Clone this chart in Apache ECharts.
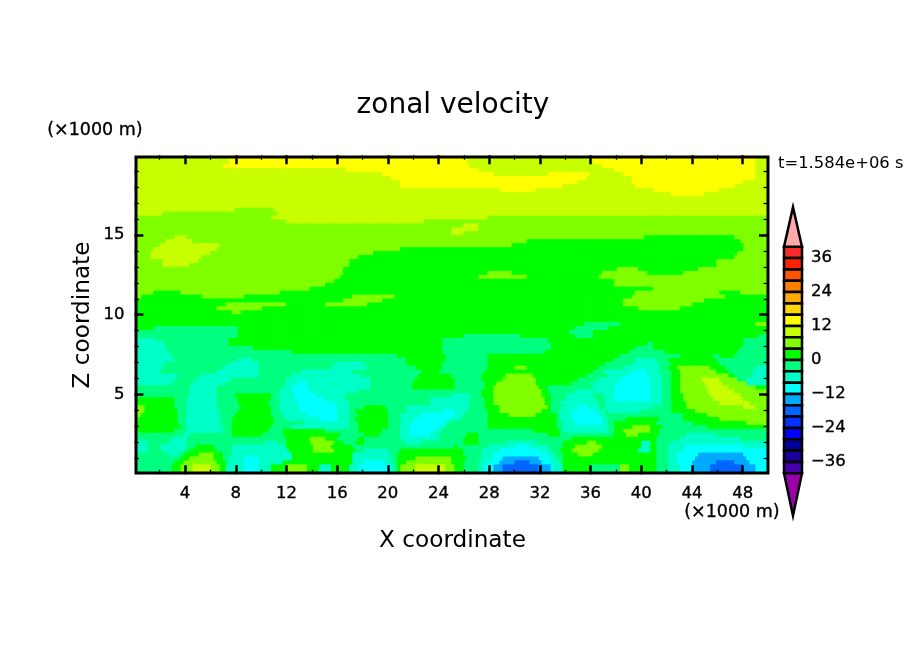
<!DOCTYPE html>
<html><head><meta charset="utf-8">
<style>html,body{margin:0;padding:0;background:#fff}#c{width:904px;height:654px}</style>
<script src="https://cdn.jsdelivr.net/npm/echarts@6/dist/echarts.min.js"></script>
</head><body><div id="c"></div>
<script>
// Band limits and colours of the colour bar, top to bottom (m/s)
const bandEdges = [40,36,32,28,24,20,16,12,8,4,0,-4,-8,-12,-16,-20,-24,-28,-32,-36,-40];
const bandColors = ['#ff2a2a','#ff2200','#ff5500','#ff7f00','#ffaa00','#ffd400','#ffff00','#c8ff00','#80ff00','#00ff00','#00ff80','#00ffc8','#00ffff','#00aaff','#0066ff','#0033ff','#0000ff','#000099','#1a0099','#4400aa'];
const overColor = '#ffaaaa';
const underColor = '#9900aa';
const tipValues = [54, -55];
const barTicks = [36,24,12,0,-12,-24,-36];
const xTickLabels = [4,8,12,16,20,24,28,32,36,40,44,48];
const xMinorTicks = [2,6,10,14,18,22,26,30,34,38,42,46];
const zTickLabels = [5,10,15];
const zMinorTicks = [1,2,3,4,6,7,8,9,11,12,13,14,16,17,18,19];
// Letter = velocity band
const letterValues = {a:14,b:10,c:6,d:2,e:-2,f:-6,g:-10,h:-14,i:-18};
const zRowHeight = 0.25;
const xStart = 0.125;
const xEnd = 50;
const nCols = 210;
// One line per height row, top (z=20) to bottom (z=0), 0.25 km apart: band letter + x (km) where that band ends
const rowRuns = [
"b7.4 a26.2 b36.3 a49 b50",
"b7.4 a26.2 b36.3 a49 b50",
"b7.1 a26.5 b36.9 a49 b50",
"b16.8 a27.1 b37.8 a49.1 b50",
"b19.5 a28.3 b32.75 a36 b38.55 a49.1 b50",
"b20.4 a35.8 b39.3 a49 b50",
"b21.1 a35 b39.4 a48.2 b50",
"b21.1 a33.9 b39.5 a47.4 b50",
"b28.8 a31.8 b41 a46.2 b50",
"b42.5 a44.9 b50",
"b50",
"b50",
"b50",
"b7.9 c11.1 b50",
"b2.3 c11.2 b50",
"c10.7 b28 c50",
"c12 b23 c50",
"c25.9 b27.1 c50",
"c25 b27.1 c50",
"c25 b26 c50",
"c3.1 b4.1 c40.3 d47.3 c50",
"c2.5 b4.7 c31 d47.9 c50",
"c2 b6.8 c29.9 d48 c50",
"c1.6 b6.5 c21 d48 c50",
"c1.4 b6 c18.9 d47.6 c50",
"c1.4 b5.45 c17.8 d47.4 c50",
"c2.3 b5.2 c17 d46 c50",
"c2.3 b4.5 c16.9 d46 c50",
"c16.6 d38.2 c39.9 d44.5 c50",
"c16.5 d28 c29.8 d37 c40.5 d43.4 c50",
"c16.2 d27.2 c30.9 d36.7 c50",
"c15.7 d38 c50",
"c15.2 d37.8 c50",
"c14 d40.9 c50",
"c1.5 d3.8 c11.5 d39.6 c46.3 d47.8 c50",
"c0.7 d5.4 c8.7 d17.15 c20.45 d39.2 c46.7 d50",
"d16.5 c19.7 d38.7 c44.9 d50",
"d7.3 c12 d15.2 c18.3 d38.6 c44.1 d50",
"d6.6 c10.2 d39.7 c43 d50",
"d7.8 c8.4 d50",
"d50",
"d50",
"d35.5 e38.4 d49 c50",
"d1.5 e8.1 d34.9 e37.5 d50",
"e8.1 d34.3 e36.3 d50",
"e8.1 d26 e30.6 d34.9 e36.2 d49.4 e50",
"f1.7 e7.4 d24.3 e32.6 d48.2 e50",
"f2.4 e7.5 d24.3 e32.9 d40.4 e40.9 d48 e50",
"f2.6 e9.5 d24.3 e33 d39.6 e40.9 d47.8 e50",
"f2.8 e12.5 d24.3 e32.5 d39 e42 d47.6 e50",
"f2.9 e20.7 d24.5 e28 d38.3 e43 d45.7 e46.3 d47.5 e50",
"f3.3 e8.2 f9.3 e21.5 d24.5 e27.95 d37.8 e39.6 f41.3 e42.25 d46 e50",
"f2.6 e7.5 f9.9 e15.7 f18.2 e21.6 d24.4 e27.9 d37.1 e39.4 f41.5 e42.3 d46.3 e50",
"f2.3 e7 f9.9 e15.6 f18.35 e22.3 d24.4 e27.95 d30 c31 d36.6 e38.7 f41.5 e42.25 d42.9 c45.4 d46.75 e49.1 f50",
"f2.1 e6.6 f9.9 e13.3 f17.2 e22.7 d24 e27.7 d36.2 e37.2 f39.2 g40.5 f41.5 e42.3 d43 c46 d47 e48.7 f50",
"f3.35 e5.45 f9.9 e12.55 f18 e22.4 d25 e27.5 d29.45 c31.45 d35.65 e37.5 f38.8 g40.5 f41.6 e42.3 d43 c46.9 d47.3 e48.7 f50",
"f3.2 e4.9 f7.7 e12 f18.6 e22.2 d25.2 e27.5 d29.2 c31.7 d35.1 e36.8 f38.4 g40.7 f41.6 e42.3 d43 c44.8 b46.2 c47.7 e48.3 f50",
"f2.95 e4.65 f7.3 e11.9 f13 g13.6 f18.6 e22 d25.2 e27.6 d28.65 c31.8 d34.6 e36.3 f38.05 g40.7 f41.6 e42.3 d43.1 c45 b46.35 c48.3 f50",
"e4.4 f6.6 e11.8 f12.4 g13.7 f18.6 e22 d25.2 e27.6 d28.4 c32 d32.6 e36.2 f37.8 g40.8 f41.6 e42.3 d43.2 c45.2 b46.9 c49.1 d50",
"e4.5 f6.6 e11.5 f12.4 g14 f17.8 e27.5 d28.3 c32.1 d32.6 e34.75 f37.8 g40.8 f41.6 e42.3 d43.2 c45.3 b47.3 c50",
"e4.3 f6.5 e7.9 d10.7 e11.4 f12.7 g14.3 f16.8 e25 f26.5 e27.5 d28.3 c32.2 d32.8 e34 f36.2 e37 f37.8 g40.8 f41.6 e42.3 d43.3 c45.5 b47.8 c50",
"d3.3 e4.1 f6.55 e8.1 d10.7 e11.5 f12.75 g15 f16.8 e23.5 f26.55 e27.6 d28.4 c32.35 d32.8 e34 f36.45 e37.1 f38 g40.8 f41.6 e42.3 d43.3 c45.7 b48.2 c50",
"d3.3 e4.1 f6.6 e8.2 d10.6 e11.5 f13 g15.7 f16.9 e23.3 f26.5 e27.6 d28.5 c32.5 d32.9 e33.7 f36.7 e37.2 f41.6 e42.3 d43.6 c46.3 b48.6 c50",
"c0.85 d3.2 e4.1 f6.6 e8.35 d10.8 e11.5 f13 g16 f16.9 e18.1 d19.9 e21.5 f26.4 e27.7 d28.9 c32.6 d32.9 e33.8 f35 g35.7 f36.7 e37.2 f41 e42.5 d43.7 c48.1 b49 c50",
"c0.8 d3.4 e4.1 f6.75 e8.3 d10.8 e11.6 f13.1 g16 f16.9 e17.55 d20 e21.4 f24.3 g25.3 f26.2 e27.8 d28.9 c32.2 d33 e33.7 f34.6 g36.45 f37.2 e37.4 f40.1 e42.5 d44.2 c50",
"c0.6 d3.35 e4.1 f6.75 e8 d10.85 e11.8 f13.7 g16 f16.9 e17.7 d20 e21.1 f22.6 g25.3 f25.9 e27.8 d29.5 c31.8 d33.3 e33.7 f34.45 g36.7 f37.25 e43.3 d45.15 c50",
"c0.3 d3.5 e4.1 f6.8 e7.8 d11 e11.9 f14.7 g16 f16.95 e17.55 d20 e21 f22.2 g25 f25.8 e27.9 d33.3 e33.7 f34.5 g36.85 f37.4 e38.8 d41.5 e43.4 d46.3 c50",
"d3.5 e4.1 f6.8 e7.8 d11 e13.35 f16.9 e17.6 d20 e21 f21.9 g24.5 f24.9 e27.9 d33.3 e33.75 f34.85 g36.85 f37.45 e38 d41.3 e44.1 d48.45 c50",
"d3.7 e4.1 f6.9 e7.7 d10.8 e12.5 f16.9 e17.8 d20 e21 f21.8 g24.1 f24.5 e27.9 d33.4 e33.9 f37.4 e37.8 d39.2 c40.8 d41.6 e45.3 d50",
"d3.2 e4.05 f6.9 e7.7 d10.6 e11.7 d15 e17.8 d19.7 e21 f21.8 g23.6 f24.25 e31.4 d33.55 e33.95 f37.5 e37.9 d38.55 c40.7 d41.5 e50",
"e3.9 f4.4 e7.8 d10.2 e11.75 d16.2 e18.1 d19.4 e21 f21.8 g23.4 f24 e26.2 d27.3 e32.75 d33.7 e38 d38.8 c39.7 d41.5 e43.7 f45.9 e50",
"e2.95 f4.25 e11.9 d14 c15.2 d16.1 e17.8 d18.2 e21.1 f24 e26.1 d27.2 e34.45 d41.2 e43 f47.8 e50",
"f1 e2.7 f4.1 e10.4 f11.4 e11.9 d14 c15.7 d16.5 e17.55 d18.1 e21.5 f22.8 e26.1 d27.2 e29.45 f31.8 e33.9 d35.65 c36.45 d40 f40.7 d41.3 e42.5 f50",
"f1.1 e2.1 f4.1 e4.9 d6.2 e7.7 f11.9 d14.25 c15.55 d17.15 e25.3 d25.6 e28 f30.1 g31.2 f32.6 e33.9 d34.85 c36.85 d40 f40.8 d41.2 e42.25 f43.5 g48.05 f50",
"f1.1 e2.15 f4 e4.3 d6.6 e7.7 f12.15 d14.25 c15.8 d17.4 e18.2 f20.05 e21 d25.9 e27.5 f28.8 g32 f33 e33.7 d34.6 c36.6 d39.9 f40.7 d41.2 e42.25 f43.3 g50",
"e2.75 f3.45 e3.85 d5 c6.2 d6.9 e7.7 f12.55 d17.3 f20.3 e20.7 d25.9 e27.5 f28.5 g32.6 f33.2 e33.8 d35 c36.2 d41.1 e42.25 f42.8 g44.6 h48.05 g50",
"e3.6 d4.3 c6.2 d6.9 e7.55 f8.75 g9.8 f12.55 d17.3 f20.2 e20.7 d22.2 c25.05 d26.15 e27.5 f28.3 g29.2 h31.9 g32.9 f33.4 e33.9 d41.1 e42.25 f42.8 g44.2 h48.3 g50",
"e3.3 d4 c6.5 d7.2 e7.4 f8.75 g9.8 f11.8 d17.3 f18.1 g19.9 f20.3 e20.7 d21.4 c25.05 d26 e27.2 f28 g28.9 h30 i31.3 h32.2 g32.9 f33.55 e33.9 d41.1 e42.25 f42.9 g44.1 h46 i47.3 h48.6 g50",
"e3 d3.7 c4.65 b6.1 c6.75 d7.3 f8.6 g9.9 f10.85 d12 c13.6 d14.65 f15.45 d17 f17.8 g20.2 f20.45 e20.7 d21.1 c22.3 b24.5 c25.2 d26 e27.1 f27.75 g28.5 h29.2 i32 h32.9 g33.15 f33.8 d35.9 e38.3 c39 d41.1 e42.1 f43 g44 h45.55 i48.1 h49 g50",
"e3 d3.7 c4.65 b6.1 c6.75 d7.3 f8.6 g9.9 f10.85 d12 c13.6 d14.65 f15.45 d17 f17.8 g20.2 f20.45 e20.7 d21.1 c22.3 b24.5 c25.2 d26 e27.1 f27.75 g28.5 h29.2 i32 h32.9 g33.15 f33.8 d35.9 e38.3 c39 d41.1 e42.1 f43 g44 h45.55 i48.1 h49 g50"
];

const nRows = rowRuns.length;
const cellWidth = (xEnd - xStart) / nCols;
const xCats = Array.from({length:nCols},(_,i)=>(xStart+(i+0.5)*cellWidth).toFixed(3));
const zCats = Array.from({length:nRows},(_,i)=>(i*zRowHeight).toFixed(2));
const colorOf = v => bandColors[bandEdges.findIndex((e,i)=>v<=e && v>bandEdges[i+1])];
const cells = [];
rowRuns.forEach((line,r)=>{
  const runs = line.split(' ').map(s=>[s[0],parseFloat(s.slice(1))]);
  const zIdx = nRows-1-r;
  for(let c=0;c<nCols;c++){
    const xc=xStart+(c+0.5)*cellWidth;
    const run = runs.find(u=>u[1]>xc) || runs[runs.length-1];
    const v=letterValues[run[0]], col=colorOf(v);
    cells.push({value:[c,zIdx,v],itemStyle:{color:col,borderColor:col,borderWidth:0.8}});
  }
});
const barData = bandColors.map((color,i)=>[bandEdges[i+1],bandEdges[i],i]);

const ink='#000';
const tickFont={fontFamily:'DejaVu Sans',fontSize:16.5,color:ink,textBorderColor:ink,textBorderWidth:0.35};
const tickAxis=(gridIndex,max,interval,position,values,major,label)=>({
  type:'value',gridIndex,min:0,max,interval,position,silent:true,z:6,
  axisLine:{show:false,onZero:false},splitLine:{show:false},
  axisTick:{show:true,inside:true,length:major?9:4.5,customValues:values,
    lineStyle:{width:major?2.5:1.3,color:ink}},
  axisLabel:label?{show:true,customValues:values,...label}:{show:false}
});
const xLab={margin:11,...tickFont}, zLab={margin:10,...tickFont};
const option={
  animation:false,
  backgroundColor:'#fff',
  title:{text:'zonal velocity',left:448,top:87,textAlign:'center',
    textStyle:{fontFamily:'DejaVu Sans',fontSize:28,fontWeight:'normal',color:ink}},
  grid:[
    {left:136,top:157,width:632,height:316,show:true,backgroundColor:'transparent',borderColor:ink,borderWidth:3,z:5},
    {left:134.4,top:155.2,width:633.6,height:319,z:6},
    {left:134.4,top:155.2,width:633.6,height:319,z:6},
    {left:784,top:190.2,width:18,height:339.6,z:3}
  ],
  xAxis:[
    {gridIndex:0,type:'category',data:xCats,show:false},
    tickAxis(1,50,4,'bottom',xTickLabels,true,xLab),
    tickAxis(1,50,4,'top',xTickLabels,true),
    tickAxis(2,50,2,'bottom',xMinorTicks,false),
    tickAxis(2,50,2,'top',xMinorTicks,false),
    {gridIndex:3,type:'value',min:0,max:1,show:false}
  ],
  yAxis:[
    {gridIndex:0,type:'category',data:zCats,show:false},
    tickAxis(1,20,5,'left',zTickLabels,true,zLab),
    tickAxis(1,20,5,'right',zTickLabels,true),
    tickAxis(2,20,1,'left',zMinorTicks,false),
    tickAxis(2,20,1,'right',zMinorTicks,false),
    {gridIndex:3,type:'value',min:-60,max:60,interval:12,position:'right',
      axisLine:{show:false},axisTick:{show:false},splitLine:{show:false},
      axisLabel:{show:true,margin:9,customValues:barTicks,...tickFont,
        formatter:v=>String(v).replace('-','\u2212')}}
  ],
  graphic:[
    {type:'text',left:47,top:121,z:10,style:{text:'(\u00d71000 m)',font:'17.5px "DejaVu Sans"',fill:ink,stroke:ink,lineWidth:0.35}},
    {type:'text',left:684,top:503,z:10,style:{text:'(\u00d71000 m)',font:'17.5px "DejaVu Sans"',fill:ink,stroke:ink,lineWidth:0.35}},
    {type:'text',left:778,top:156,z:10,style:{text:'t=1.584e+06 s',font:'16.4px "DejaVu Sans"',fill:ink}},
    {type:'text',left:379,top:529,z:10,style:{text:'X coordinate',font:'23.2px "DejaVu Sans"',fill:ink}},
    {type:'text',x:83,y:315,rotation:Math.PI/2,z:10,style:{text:'Z coordinate',font:'23.2px "DejaVu Sans"',fill:ink,align:'center',verticalAlign:'middle'}}
  ],
  series:[
    {type:'heatmap',xAxisIndex:0,yAxisIndex:0,data:cells,z:1,progressive:0,silent:true,
      emphasis:{disabled:true}},
    {type:'custom',xAxisIndex:5,yAxisIndex:5,z:3,silent:true,clip:false,data:barData,
      renderItem:(p,api)=>{
        const lo=api.coord([0,api.value(0)]),hi=api.coord([1,api.value(1)]);
        return {type:'rect',shape:{x:lo[0],y:hi[1],width:hi[0]-lo[0],height:lo[1]-hi[1]},
          style:{fill:bandColors[api.value(2)],stroke:ink,lineWidth:2.5}};
      }},
    {type:'custom',xAxisIndex:5,yAxisIndex:5,z:3,silent:true,clip:false,
      data:[[bandEdges[0],tipValues[0],0],[bandEdges[bandEdges.length-1],tipValues[1],1]],
      renderItem:(p,api)=>{
        const a=api.coord([0,api.value(0)]),b=api.coord([1,api.value(0)]),t=api.coord([0.5,api.value(1)]);
        return {type:'polygon',shape:{points:[a,b,t]},
          style:{fill:api.value(2)===0?overColor:underColor,stroke:ink,lineWidth:2.5}};
      }}
  ]
};
echarts.init(document.getElementById('c'),null,{renderer:'canvas'}).setOption(option);
</script></body></html>
